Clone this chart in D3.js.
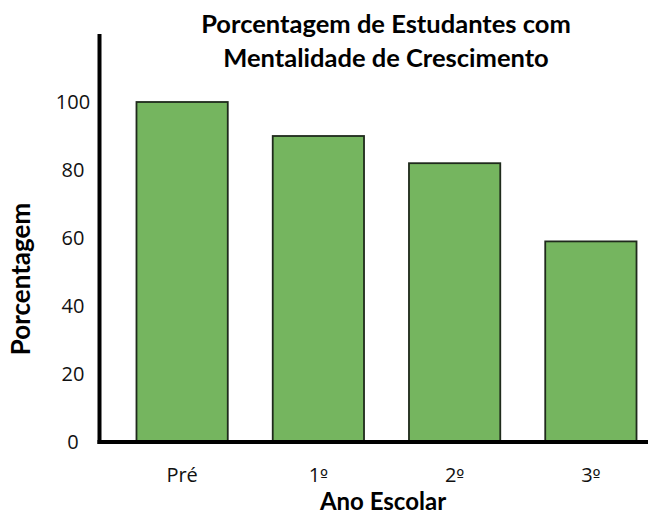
<!DOCTYPE html>
<html>
<head>
<meta charset="utf-8">
<script src="https://cdn.jsdelivr.net/npm/d3@7"></script>
<style>
  body { margin: 0; background: #fff; }
  svg { display: block; font-family: Lato, "Open Sans", sans-serif; }
</style>
</head>
<body>
<svg width="648" height="515"></svg>
<script>
const grades = ["Pré", "1º", "2º", "3º"];
const percentages = [100, 90, 82, 59];
const yTicks = [0, 20, 40, 60, 80, 100];
const titleLines = ["Porcentagem de Estudantes com", "Mentalidade de Crescimento"];

const svg = d3.select("svg");

const x = d3.scaleBand()
  .domain(grades)
  .range([114, 659])
  .paddingInner(0.33)
  .paddingOuter(0.165);

const y = d3.scaleLinear()
  .domain([0, 120])
  .range([442, 34]);

// bars
svg.append("g")
  .selectAll("rect")
  .data(percentages)
  .enter().append("rect")
  .attr("x", (d, i) => x(grades[i]))
  .attr("y", d => y(d))
  .attr("width", x.bandwidth())
  .attr("height", d => y(0) - y(d))
  .attr("fill", "#75b55f")
  .attr("stroke", "#1f2a1c")
  .attr("stroke-width", 1.8);

// axes, drawn as plain thick lines (no tick marks in the original)
svg.append("line")
  .attr("x1", 99.5).attr("x2", 99.5)
  .attr("y1", y(120)).attr("y2", y(0) + 2)
  .attr("stroke", "#000").attr("stroke-width", 4);

svg.append("line")
  .attr("x1", 97.5).attr("x2", 648)
  .attr("y1", y(0)).attr("y2", y(0))
  .attr("stroke", "#000").attr("stroke-width", 4);

// y tick labels
svg.append("g")
  .selectAll("text")
  .data(yTicks)
  .enter().append("text")
  .attr("x", 73)
  .attr("y", d => y(d))
  .attr("dy", "0.36em")
  .attr("text-anchor", "middle")
  .attr("font-family", "'Open Sans', sans-serif")
  .attr("font-size", 20)
  .attr("fill", "#111")
  .text(d => d);

// x tick labels; the º goes in DejaVu Sans, which draws it underlined
svg.append("g")
  .selectAll("text")
  .data(grades)
  .enter().append("text")
  .attr("x", d => x(d) + x.bandwidth() / 2)
  .attr("y", 482)
  .attr("text-anchor", "middle")
  .attr("font-family", "'Open Sans', sans-serif")
  .attr("font-size", 20)
  .attr("fill", "#111")
  .each(function(d) {
    const t = d3.select(this);
    const k = d.indexOf("º");
    if (k < 0) { t.text(d); return; }
    t.append("tspan").text(d.slice(0, k));
    t.append("tspan").attr("font-family", "'DejaVu Sans', sans-serif")
      .attr("font-size", 17).text("º");
  });

// title
svg.append("g")
  .selectAll("text")
  .data(titleLines)
  .enter().append("text")
  .attr("x", 386)
  .attr("y", (d, i) => 33 + i * 34)
  .attr("text-anchor", "middle")
  .attr("font-size", 25.5)
  .attr("font-weight", "bold")
  .attr("fill", "#000")
  .text(d => d);

// axis titles
svg.append("text")
  .attr("x", 383)
  .attr("y", 510)
  .attr("text-anchor", "middle")
  .attr("font-size", 24)
  .attr("font-weight", "bold")
  .text("Ano Escolar");

svg.append("text")
  .attr("transform", "translate(30,279) rotate(-90)")
  .attr("text-anchor", "middle")
  .attr("font-size", 26)
  .attr("font-weight", "bold")
  .text("Porcentagem");
</script>
</body>
</html>
